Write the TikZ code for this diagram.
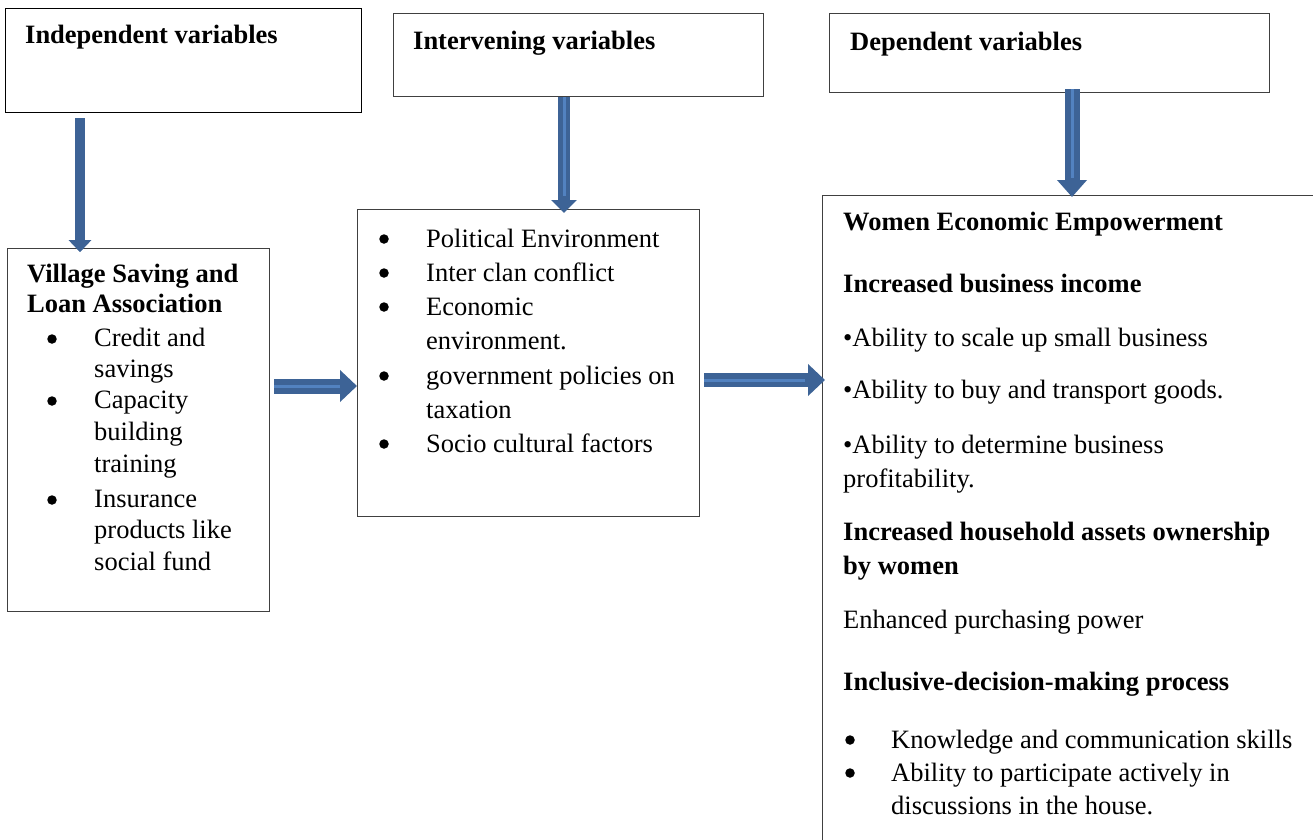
\documentclass[tikz,border=0pt]{standalone}
\usepackage{fontspec}
\setmainfont{Liberation Serif}
\usetikzlibrary{arrows.meta}
\definecolor{arrowblue}{RGB}{61,99,150}
\definecolor{arrowlight}{RGB}{82,130,192}
\definecolor{boxline}{RGB}{64,64,64}
\newcommand{\bodysize}{\fontsize{26.5pt}{33pt}\selectfont}
\tikzset{
    box/.style={draw=boxline, line width=1.3pt, inner sep=0pt, anchor=north west},
    head/.style={anchor=base west, inner sep=0pt, font=\bodysize\bfseries},
    plain/.style={anchor=base west, inner sep=0pt, font=\bodysize},
    dot/.style={circle, fill=black, inner sep=0pt, minimum size=9.5pt},
    flow/.style n args={3}{line width=#1pt, draw=arrowblue,
        -{Triangle[width=#2pt, length=#3pt]},
        postaction={draw=arrowlight, line width=3pt, -, shorten >=#3pt}}
}
\begin{document}
\begin{tikzpicture}[x=1pt, y=-1pt]
    \useasboundingbox (0, 0) rectangle (1313, 839);
    \clip (0, 0) rectangle (1313, 839);
    % top row
    \node[box, draw=black, minimum width=356, minimum height=104] (indep) at (5, 8) {};
    \node[box, minimum width=370, minimum height=83] (interv) at (393, 13) {};
    \node[box, minimum width=440, minimum height=79] (dep) at (829, 13) {};
    \node[head] (indep-t) at (25, 43) {Independent variables};
    \node[head] (interv-t) at (413, 49) {Intervening variables};
    \node[head] (dep-t) at (850, 50) {Dependent variables};
    % lower row
    \node[box, minimum width=262, minimum height=363] (vsla) at (7, 248) {};
    \node[box, minimum width=342, minimum height=307] (factors) at (357, 209) {};
    \node[box, minimum width=540, minimum height=700] (wee) at (822, 195) {};
    % left box
    \foreach \y/\t [count=\i] in {282/Village Saving and, 312/Loan Association}
        \node[head] (vsla-h\i) at (27, \y) {\t};
    \foreach \y [count=\i] in {346, 408, 507}
        \node[dot] (vsla-d\i) at (52, \y-7) {};
    \foreach \y/\t [count=\i] in {346/Credit and, 377/savings, 408/Capacity,
            440/building, 472/training, 507/Insurance, 538/products like, 570/social fund}
        \node[plain] (vsla-l\i) at (94, \y) {\t};
    % middle box
    \foreach \y [count=\i] in {247, 281, 315, 384, 452}
        \node[dot] (factors-d\i) at (384, \y-8) {};
    \foreach \y/\t [count=\i] in {247/Political Environment, 281/Inter clan conflict,
            315/Economic, 349/environment., 384/government policies on,
            418/taxation, 452/Socio cultural factors}
        \node[plain] (factors-l\i) at (426, \y) {\t};
    % right box
    \foreach \y/\t [count=\i] in {230/Women Economic Empowerment,
            292/Increased business income, 540/Increased household assets ownership,
            574/by women, 690/Inclusive-decision-making process}
        \node[head] (wee-h\i) at (843, \y) {\t};
    \foreach \y/\t [count=\i] in {346/\textbullet Ability to scale up small business,
            398/\textbullet Ability to buy and transport goods.,
            453/\textbullet Ability to determine business,
            487/profitability., 628/Enhanced purchasing power}
        \node[plain] (wee-l\i) at (843, \y) {\t};
    \foreach \y [count=\i] in {748, 781}
        \node[dot] (wee-d\i) at (850, \y-8) {};
    \foreach \y/\t [count=\i] in {748/Knowledge and communication skills,
            781/Ability to participate actively in, 814/discussions in the house.}
        \node[plain] (wee-b\i) at (891, \y) {\t};
    % arrows
    \coordinate (a1) at (80, 0);
    \coordinate (a2) at (564, 0);
    \coordinate (a3) at (1072, 0);
    \coordinate (a4) at (0, 386);
    \coordinate (a5) at (0, 380);
    \draw[flow={10}{22}{12}, postaction={draw=arrowblue}, shorten <=5pt, shorten >=-4pt] (indep.south -| a1) -- (vsla.north -| a1);
    \draw[flow={12}{25}{13}, shorten >=-4pt] (interv.south -| a2) -- (factors.north -| a2);
    \draw[flow={15}{29}{17}, shorten <=-4pt, shorten >=-2pt] (dep.south -| a3) -- (wee.north -| a3);
    \draw[flow={15}{31}{17}, shorten <=4pt] (vsla.east |- a4) -- (factors.west |- a4);
    \draw[flow={14}{31}{17}, shorten <=4pt, shorten >=-3pt] (factors.east |- a5) -- (wee.west |- a5);
\end{tikzpicture}
\end{document}
